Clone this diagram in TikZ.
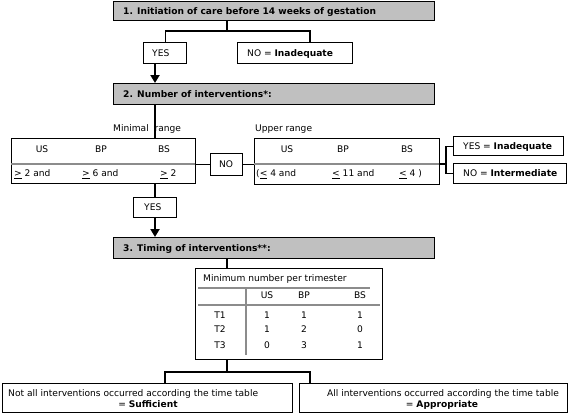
\documentclass[tikz,border=0pt]{standalone}
\usepackage{fontspec}
\setmainfont{DejaVu Sans}
\usetikzlibrary{arrows.meta}
\definecolor{boxgray}{HTML}{C0C0C0}
\definecolor{linegray}{HTML}{8C8C8C}
\begin{document}
\begin{tikzpicture}[x=1pt,y=-1pt,
  box/.style={draw,line width=1.3pt,inner sep=0pt,anchor=north west},
  gbox/.style={box,fill=boxgray},
  txt/.style={inner sep=0pt,anchor=base west,font=\fontsize{9.1}{10.5}\selectfont},
  ctxt/.style={txt,anchor=base},
  conn/.style={line width=1.3pt},
  bigarrow/.style={line width=2.8pt,-{Triangle[width=9pt,length=8pt]}},
  gline/.style={draw=linegray,line width=1.7pt}]
\useasboundingbox (0,0) rectangle (568,415);
% boxes
\node[gbox,minimum width=321pt,minimum height=19pt] (b1) at (113,1) {};
\node[box,minimum width=43pt,minimum height=21pt] (yes1) at (143,42) {};
\node[box,minimum width=115pt,minimum height=21pt] (no1) at (237,42) {};
\node[gbox,minimum width=321pt,minimum height=21pt] (b2) at (113,83) {};
\node[box,minimum width=184pt,minimum height=45pt] (minb) at (11,138) {};
\node[box,minimum width=32pt,minimum height=22pt] (no2) at (210,153) {};
\node[box,minimum width=185pt,minimum height=46pt] (upb) at (254,138) {};
\node[box,minimum width=110pt,minimum height=19pt] (yesi) at (453,136) {};
\node[box,minimum width=113pt,minimum height=20pt] (noi) at (453,163) {};
\node[box,minimum width=43pt,minimum height=20pt] (yes2) at (133,197) {};
\node[gbox,minimum width=321pt,minimum height=21pt] (b3) at (113,237) {};
\node[box,minimum width=187pt,minimum height=91pt] (tab) at (195,268) {};
\node[box,minimum width=290pt,minimum height=29pt] (lb) at (2,383) {};
\node[box,minimum width=268pt,minimum height=29pt] (rb) at (299,383) {};
% gray inner lines
\draw[gline] (11,164) -- (195,164);
\draw[gline] (254,164) -- (439,164);
\draw[gline] (198,288) -- (370,288);
\draw[gline] (198,305) -- (380,305);
\draw[gline] (246,288) -- (246,355);
% coordinates
\coordinate (j1) at (227,31);
\coordinate (n1c) at (310,31);
\coordinate (ax) at (155,0);
\coordinate (cx) at (227,0);
\coordinate (br) at (446,164);
\coordinate (j3) at (227,372);
\coordinate (lx) at (165,372);
\coordinate (rx) at (310,372);
% connectors
\draw[conn] (b1.south -| j1) -- (j1);
\draw[conn] (yes1.north) |- (n1c) -- (n1c |- no1.north);
\draw[bigarrow] (yes1.south -| ax) -- (b2.north -| ax);
\draw[conn] (b2.south -| ax) -- (minb.north -| ax);
\draw[conn] (minb.east |- no2) -- (no2.west);
\draw[conn] (no2.east) -- (upb.west |- no2);
\draw[conn] (upb.east |- br) -- (br);
\draw[conn] (yesi.west) -| (br) |- (noi.west);
\draw[conn] (minb.south -| ax) -- (yes2.north -| ax);
\draw[bigarrow] (yes2.south -| ax) -- (b3.north -| ax);
\draw[conn] (b3.south -| cx) -- (tab.north -| cx);
\draw[conn] (tab.south -| cx) -- (j3);
\draw[conn] (lx |- lb.north) -- (lx) -- (rx) -- (rx |- rb.north);
% texts
\node[txt] (t1) at (123,14) {\bfseries 1. Initiation of care before 14 weeks of gestation};
\node[txt] (ty1) at (152,56) {YES};
\node[txt] (tn1) at (247,56) {NO = \textbf{Inadequate}};
\node[txt] (t2) at (123,97) {\bfseries 2. Number of interventions*:};
\node[txt] (tmin) at (113,131.5) {Minimal \ range};
\node[txt] (tup) at (255,131.5) {Upper range};
\node[ctxt] (mus) at (42,152.5) {US};
\node[ctxt] (mbp) at (101,152.5) {BP};
\node[ctxt] (mbs) at (164,152.5) {BS};
\node[txt] (mr1) at (14,176.5) {\underline{>} 2 and};
\node[txt] (mr2) at (82,176.5) {\underline{>} 6 and};
\node[txt] (mr3) at (160,176.5) {\underline{>} 2};
\node[ctxt] (tno2) at (226,167.5) {NO};
\node[ctxt] (uus) at (287,152.5) {US};
\node[ctxt] (ubp) at (343,152.5) {BP};
\node[ctxt] (ubs) at (407,152.5) {BS};
\node[txt] (ur1) at (256,176.5) {(\underline{<} 4 and};
\node[txt] (ur2) at (332,176.5) {\underline{<} 11 and};
\node[txt] (ur3) at (399,176.5) {\underline{<} 4 )};
\node[txt] (tyi) at (463,149) {YES = \textbf{Inadequate}};
\node[txt] (tni) at (463,176.5) {NO = \textbf{Intermediate}};
\node[txt] (ty2) at (144,210.5) {YES};
\node[txt] (t3) at (123,251) {\bfseries 3. Timing of interventions**:};
\node[txt] (ttt) at (203,281.5) {Minimum number per trimester};
\node[ctxt] (hus) at (267,298.5) {US};
\node[ctxt] (hbp) at (304,298.5) {BP};
\node[ctxt] (hbs) at (360,298.5) {BS};
\node[ctxt] (r1) at (220,318.5) {T1};
\node[ctxt] (r2) at (220,332.5) {T2};
\node[ctxt] (r3) at (220,348) {T3};
\node[ctxt] (v11) at (267,318.5) {1};
\node[ctxt] (v12) at (304,318.5) {1};
\node[ctxt] (v13) at (360,318.5) {1};
\node[ctxt] (v21) at (267,332.5) {1};
\node[ctxt] (v22) at (304,332.5) {2};
\node[ctxt] (v23) at (360,332.5) {0};
\node[ctxt] (v31) at (267,348) {0};
\node[ctxt] (v32) at (304,348) {3};
\node[ctxt] (v33) at (360,348) {1};
\node[txt] (l1) at (8,396.5) {Not all interventions occurred according the time table};
\node[ctxt] (l2) at (148,407) {= \textbf{Sufficient}};
\node[txt] (rr1) at (327,396.5) {All interventions occurred according the time table};
\node[ctxt] (rr2) at (442,407) {= \textbf{Appropriate}};
\end{tikzpicture}
\end{document}
